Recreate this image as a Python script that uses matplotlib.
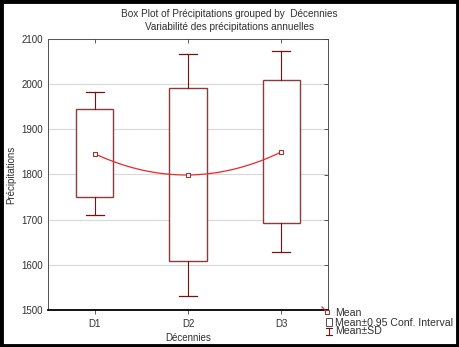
import numpy as np
import matplotlib.pyplot as plt
from matplotlib.lines import Line2D
from matplotlib.patches import Rectangle

plt.rcParams['font.family'] = ['Liberation Sans', 'DejaVu Sans']

# Précipitations par décennie
decennies = ['D1', 'D2', 'D3']
moyenne = [1846, 1799, 1850]
ic_bas = [1750, 1608, 1692]
ic_haut = [1945, 1992, 2010]
sd_bas = [1710, 1532, 1628]
sd_haut = [1982, 2067, 2074]

W, H = 459, 347
fig = plt.figure(figsize=(W / 100, H / 100), dpi=100)


def fx(px):
    return px / W


def fy(py):
    return 1 - py / H


ax = fig.add_axes([fx(48), fy(310), fx(328) - fx(48), fy(39) - fy(310)])

box_col = '#8a3c3c'
sd_col = '#7a1010'
mean_col = '#e8282a'
x = np.arange(1, len(decennies) + 1)
yt = np.arange(1500, 2101, 100)

ax.grid(axis='y', color='#d8d8d8', linewidth=0.8, zorder=0)

for xi, lo, hi, slo, shi in zip(x, ic_bas, ic_haut, sd_bas, sd_haut):
    ax.add_patch(Rectangle((xi - 0.2, lo), 0.4, hi - lo, facecolor='white',
                           edgecolor=box_col, linewidth=1.0, zorder=2))
    ax.plot([xi, xi], [hi, shi], color=sd_col, linewidth=0.8, zorder=2)
    ax.plot([xi, xi], [slo, lo], color=sd_col, linewidth=0.8, zorder=2)
    ax.plot([xi - 0.095, xi + 0.095], [shi, shi], color=sd_col, linewidth=0.9, zorder=2)
    ax.plot([xi - 0.095, xi + 0.095], [slo, slo], color=sd_col, linewidth=0.9, zorder=2)

# courbe lissée passant par les moyennes
coef = np.polyfit(x, moyenne, 2)
xs = np.linspace(x[0], x[-1], 100)
ax.plot(xs, np.polyval(coef, xs), color=mean_col, linewidth=0.9, zorder=3)
ax.plot(x, moyenne, linestyle='none', marker='s', markersize=3.2,
        markerfacecolor='white', markeredgecolor=box_col, markeredgewidth=0.8, zorder=4)

ax.set_xlim(0.5, 3.5)
ax.set_ylim(1500, 2100)
ax.set_yticks(yt)
ax.set_xticks(x)
ax.set_xticklabels(decennies)
ax.tick_params(axis='both', labelsize=7, colors='#404040', length=3, width=0.6)
ax.tick_params(axis='y', length=0)
for lab in ax.get_xticklabels() + ax.get_yticklabels():
    lab.set_color('#303030')

for side in ['left', 'top', 'right']:
    ax.spines[side].set_color('#505050')
    ax.spines[side].set_linewidth(0.7)
ax.spines['bottom'].set_color('black')
ax.spines['bottom'].set_linewidth(1.3)

# graduations intérieures en haut et à droite
ax_top = ax.twiny()
ax_top.set_xlim(ax.get_xlim())
ax_top.set_xticks(x)
ax_top.tick_params(axis='x', direction='in', length=3, width=0.6, colors='#404040',
                   labeltop=False)
ax_right = ax.twinx()
ax_right.set_ylim(ax.get_ylim())
ax_right.set_yticks(yt)
ax_right.tick_params(axis='y', direction='in', length=3, width=0.6, colors='#404040',
                     labelright=False)
for tw in (ax_top, ax_right):
    for sp in tw.spines.values():
        sp.set_visible(False)

ax.set_ylabel('Précipitations', fontsize=7, color='#303030', labelpad=4)
ax.set_xlabel('Décennies', fontsize=7, color='#303030', labelpad=3)

fig.text(0.5, fy(14), 'Box Plot of Précipitations grouped by  Décennies',
         ha='center', va='center', fontsize=7.2, color='#303030')
fig.text(0.5, fy(27), 'Variabilité des précipitations annuelles',
         ha='center', va='center', fontsize=7.2, color='#303030')

# légende
fig.add_artist(Line2D([fx(322), fx(329)], [fy(307), fy(314)], color=mean_col, linewidth=0.9))
fig.add_artist(Line2D([fx(326.5)], [fy(311.5)], marker='s', markersize=3,
                      markerfacecolor='white', markeredgecolor=box_col, markeredgewidth=0.8))
fig.add_artist(Rectangle((fx(326), fy(326)), fx(6), 8 / H, facecolor='white',
                         edgecolor='#505050', linewidth=0.7))
fig.add_artist(Line2D([fx(329), fx(329)], [fy(328), fy(335)], color=sd_col, linewidth=0.8))
fig.add_artist(Line2D([fx(326), fx(332)], [fy(328), fy(328)], color=sd_col, linewidth=0.8))
fig.add_artist(Line2D([fx(326), fx(332)], [fy(335), fy(335)], color=sd_col, linewidth=0.8))
for txt, py in zip(['Mean', 'Mean±0.95 Conf. Interval', 'Mean±SD'], [313, 322.5, 331.5]):
    fig.text(fx(335), fy(py), txt, ha='left', va='center', fontsize=7.6, color='#303030')

# cadre noir
fig.add_artist(Rectangle((0.003, 0.004), 0.994, 0.992, fill=False, edgecolor='black',
                         linewidth=3.5, transform=fig.transFigure))

fig.savefig('out.png', dpi=100)
